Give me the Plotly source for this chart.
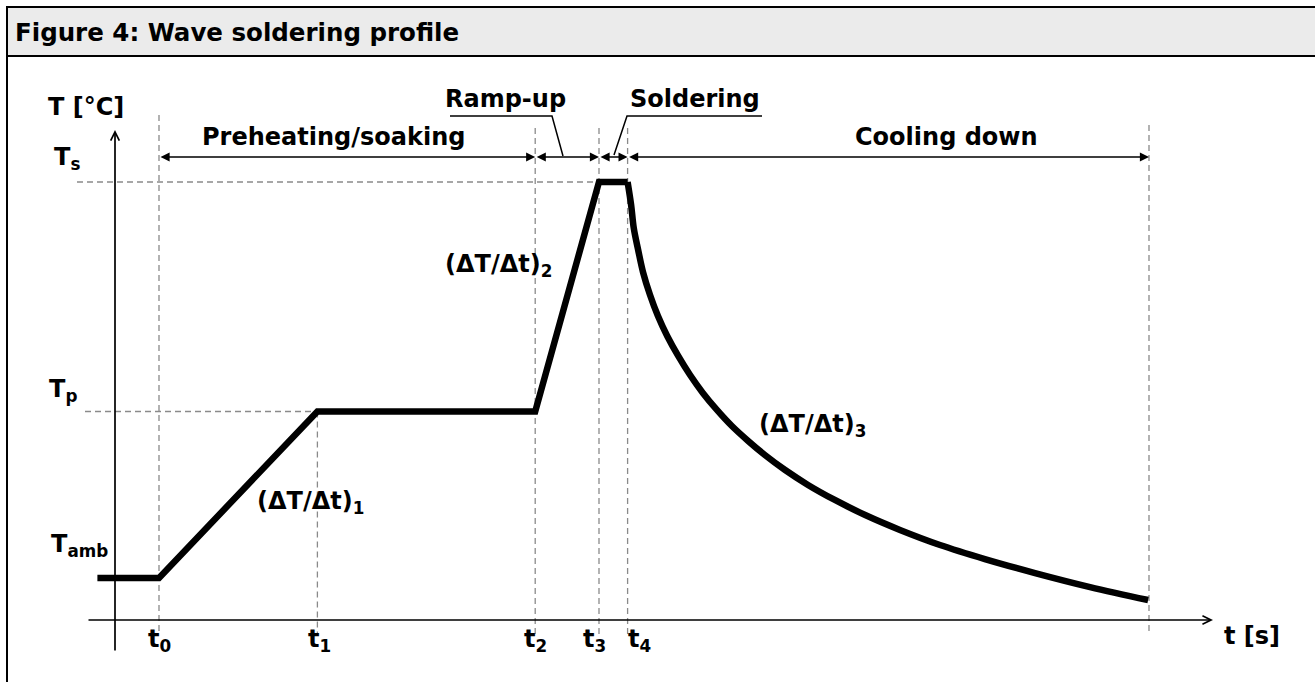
import plotly.graph_objects as go

W, H = 1315, 682

# ---------------- data ----------------
phase_names = ["Preheating/soaking", "Ramp-up", "Soldering", "Cooling down"]
time_marks = [10, 46, 95.5, 110, 116.5, 235]          # t0, t1, t2, t3, t4, t_end  [s]
time_labels = ["t<sub>0</sub>", "t<sub>1</sub>", "t<sub>2</sub>", "t<sub>3</sub>", "t<sub>4</sub>"]
T_amb, T_p, T_s = 24, 119, 250                          # [°C]
temp_labels = ["T<sub>amb</sub>", "T<sub>p</sub>", "T<sub>s</sub>"]

heat_t = [-4, 10, 46, 95.5, 110, 116.5]
heat_T = [24, 24, 119, 119, 250, 250]
cool_t = [116.5, 117.3, 117.9, 118.9, 120.0, 121.6, 123.4, 125.5, 128.0, 130.7, 133.6, 136.8, 140.2,
          143.9, 147.7, 152.3, 157.5, 163.6, 170.5, 178.4, 187.5, 197.7, 209.1, 221.6, 234.8]
cool_T = [250, 236.9, 223.7, 211.2, 198.6, 185.5, 173.5, 162.1, 150.7, 139.8, 129.6, 119.9, 110.7,
          102.2, 94.2, 85.6, 77.1, 68.5, 59.9, 51.4, 42.8, 34.8, 26.8, 18.8, 11.4]
slope_labels = ["(ΔT/Δt)<sub>1</sub>", "(ΔT/Δt)<sub>2</sub>", "(ΔT/Δt)<sub>3</sub>"]

# ---------------- scale (pixel placement of the axes) ----------------
X0PX, Y0PX = 115, 620     # pixel position of the origin
KX, KY = 4.4, 1.752       # pixels per second, pixels per °C


def tx(px):
    return (px - X0PX) / KX


def ty(py):
    return (Y0PX - py) / KY


def pxf(px):
    return px / W


def pyf(py):
    return (H - py) / H


FONT = "DejaVu Sans, Verdana, sans-serif"
FS = 24
DASH = dict(color="#8a8a8a", width=1.3, dash="6px,4px")

fig = go.Figure()

# ---- dashed guide lines ----
t0, t1, t2, t3, t4, tend = time_marks
shapes = []
for t, top in [(t0, 115), (t2, 128), (t3, 128), (t4, 128), (tend, 125)]:
    shapes.append(dict(type="line", xref="x", yref="y", x0=t, x1=t, y0=ty(top), y1=ty(634), line=DASH, layer="below"))
shapes.append(dict(type="line", xref="x", yref="y", x0=t1, x1=t1, y0=T_p, y1=ty(634), line=DASH, layer="below"))
shapes.append(dict(type="line", xref="x", yref="y", x0=tx(77), x1=t3, y0=T_s, y1=T_s, line=DASH, layer="below"))
shapes.append(dict(type="line", xref="x", yref="y", x0=tx(85), x1=t1, y0=T_p, y1=T_p, line=DASH, layer="below"))

# ---- header box and frame ----
shapes.append(dict(type="rect", xref="paper", yref="paper", x0=pxf(7), x1=1.01, y0=pyf(56), y1=pyf(7),
                   fillcolor="#ebebeb", line=dict(color="black", width=2), layer="below"))
shapes.append(dict(type="line", xref="paper", yref="paper", x0=pxf(7), x1=pxf(7), y0=0, y1=pyf(7),
                   line=dict(color="black", width=2)))

# ---- temperature profile ----
fig.add_trace(go.Scatter(x=heat_t, y=heat_T, mode="lines", line=dict(color="black", width=6.5),
                         hoverinfo="skip", showlegend=False))
fig.add_trace(go.Scatter(x=cool_t, y=cool_T, mode="lines",
                         line=dict(color="black", width=6.5, shape="spline", smoothing=1),
                         hoverinfo="skip", showlegend=False))

# ---- leader lines for Ramp-up / Soldering ----
fig.add_trace(go.Scatter(x=[tx(450), tx(552), tx(563)], y=[ty(116), ty(116), ty(156)], mode="lines",
                         line=dict(color="black", width=1.5), hoverinfo="skip", showlegend=False))
fig.add_trace(go.Scatter(x=[tx(762), tx(627), tx(614)], y=[ty(116), ty(116), ty(155)], mode="lines",
                         line=dict(color="black", width=1.5), hoverinfo="skip", showlegend=False))

ann = []
# axes arrows
ann.append(dict(x=0, y=ty(130), ax=0, ay=ty(652), xref="x", yref="y", axref="x", ayref="y", text="",
                showarrow=True, arrowhead=5, arrowsize=1, arrowwidth=1.7, arrowcolor="black"))
ann.append(dict(x=tx(1213), y=0, ax=tx(87), ay=0, xref="x", yref="y", axref="x", ayref="y", text="",
                showarrow=True, arrowhead=5, arrowsize=1, arrowwidth=1.7, arrowcolor="black"))

# phase double arrows
bounds = [t0, t2, t3, t4, tend]
ya = ty(157)
for i in range(4):
    ann.append(dict(x=bounds[i + 1], y=ya, ax=bounds[i], ay=ya, xref="x", yref="y", axref="x", ayref="y",
                    text="", showarrow=True, arrowside="end+start", arrowhead=2, startarrowhead=2,
                    arrowsize=1.3, startarrowsize=1.3, arrowwidth=1.4, arrowcolor="black"))


def label(x, y, text, size=FS, xanchor="center"):
    ann.append(dict(x=x, y=y, xref="x", yref="y", text="<b>" + text + "</b>", showarrow=False,
                    xanchor=xanchor, yanchor="middle", font=dict(family=FONT, size=size, color="black")))


# phase names
label(tx(333), ty(137), phase_names[0])
label(tx(505), ty(99), phase_names[1])
label(tx(695), ty(99), phase_names[2])
label(tx(946), ty(137), phase_names[3])

# slope labels
label(tx(310), ty(502), slope_labels[0])
label(tx(498), ty(265), slope_labels[1])
label(tx(812), ty(425), slope_labels[2])

# axis titles
label(tx(86), ty(107), "T [°C]")
label(tx(1252), ty(636), "t [s]")

# temperature level labels
label(tx(79), ty(545), temp_labels[0])
label(tx(63), ty(390), temp_labels[1])
label(tx(67), ty(158), temp_labels[2])

# time labels
offsets = [0, 2, 0, -5, 12]
for t, lab, off in zip(time_marks[:5], time_labels, offsets):
    ann.append(dict(x=t, y=ty(640), xref="x", yref="y", text="<b>" + lab + "</b>", showarrow=False,
                    xanchor="center", yanchor="middle", xshift=off,
                    font=dict(family=FONT, size=FS, color="black")))

# header title
ann.append(dict(x=pxf(13), y=pyf(33), xref="paper", yref="paper", text="<b>Figure 4: Wave soldering profile</b>",
                showarrow=False, xanchor="left", yanchor="middle", font=dict(family=FONT, size=24.5, color="black")))

fig.update_layout(
    width=W, height=H, autosize=False,
    margin=dict(l=0, r=0, t=0, b=0, pad=0),
    paper_bgcolor="white", plot_bgcolor="white",
    xaxis=dict(range=[tx(0), tx(W)], visible=False, fixedrange=True),
    yaxis=dict(range=[ty(H), ty(0)], visible=False, fixedrange=True),
    shapes=shapes, annotations=ann, showlegend=False,
)

fig.write_html("out.html", config={"displayModeBar": False},
               post_script="document.body.style.margin='0';document.body.style.overflow='hidden';")
